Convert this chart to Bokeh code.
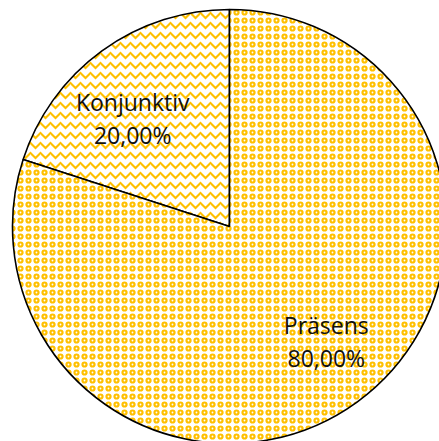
import math
from bokeh.plotting import figure
from bokeh.models import Range1d, ColumnDataSource
from bokeh.core.properties import value
from bokeh.embed import file_html
from bokeh.resources import INLINE

# data
categories = ["Konjunktiv", "Präsens"]
shares = [20.0, 80.0]
labels = ["20,00%", "80,00%"]

GOLD = "#FFC000"
R = 217

total = sum(shares)
starts, ends, mids = [], [], []
acc = 90.0
for s in shares:
    a0 = acc
    a1 = acc + 360.0 * s / total
    starts.append(math.radians(a0))
    ends.append(math.radians(a1))
    mids.append(math.radians((a0 + a1) / 2 + 5))
    acc = a1

p = figure(width=439, height=441, output_backend="svg", toolbar_location=None,
           x_range=Range1d(-229, 210), y_range=Range1d(-215, 226),
           min_border=0, outline_line_color=None)
p.axis.visible = False
p.grid.visible = False
p.background_fill_color = "white"
p.border_fill_color = "white"

patterns = ["horizontal_wave", "ring"]
scales = [10, 8]
weights = [2.0, 2.2]
for i in range(len(categories)):
    p.wedge(x=0, y=0, radius=R, start_angle=starts[i], end_angle=ends[i],
            fill_color="white", hatch_pattern=patterns[i], hatch_color=GOLD,
            hatch_scale=scales[i], hatch_weight=weights[i],
            line_color="black", line_width=1.6)

lx = [0.68 * R * math.cos(m) for m in mids]
ly = [0.68 * R * math.sin(m) for m in mids]
src1 = ColumnDataSource(dict(x=lx, y=[v + 13 for v in ly], t=categories))
src2 = ColumnDataSource(dict(x=lx, y=[v - 20 for v in ly], t=labels))
for src in (src1, src2):
    p.text(x="x", y="y", text="t", source=src, text_align="center",
           text_baseline="alphabetic", text_font=value("Open Sans"),
           text_font_size="23px", text_color="#111111")

open("out.html", "w").write(file_html(p, INLINE))
